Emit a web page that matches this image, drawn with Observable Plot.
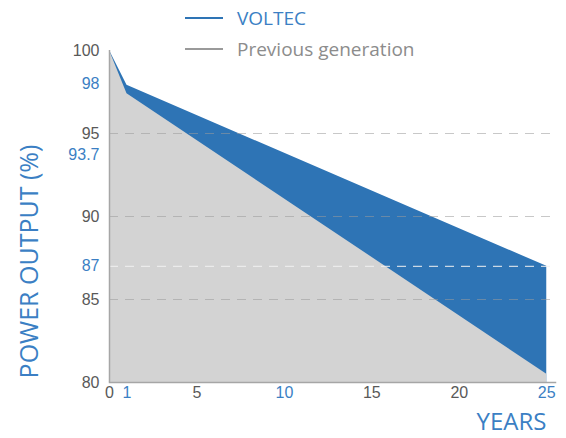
<!DOCTYPE html>
<html>
<head>
<meta charset="utf-8">
<script src="https://cdn.jsdelivr.net/npm/d3@7"></script>
<script src="https://cdn.jsdelivr.net/npm/@observablehq/plot@0.6"></script>
<style>
  html, body { margin: 0; padding: 0; background: #fff; }
  #wrap { position: relative; width: 566px; height: 438px; }
  #legend { position: absolute; left: 185px; top: 5px; font-family: "Open Sans", sans-serif; }
  .item { position: absolute; left: 0; white-space: nowrap; display: flex; align-items: center; }
  .swatch { width: 38px; height: 2px; margin-right: 14px; }
</style>
</head>
<body>
<div id="wrap">
  <div id="chart"></div>
  <div id="legend"></div>
</div>
<script>
// ---- data ----
const years = [0, 1, 25];
const voltec = [100, 97.9, 87];
const previous = [100, 97.4, 80.5];
const seriesNames = ["VOLTEC", "Previous generation"];
const yTicks = [100, 98, 95, 93.7, 90, 87, 85, 80];
const yHighlight = [98, 93.7, 87];
const xTicks = [0, 1, 5, 10, 15, 20, 25];
const xHighlight = [1, 10, 25];
const gridGray = [95, 90, 85];
const gridLight = [87];

// ---- styles ----
const BLUE = "#2e74b5";
const BLUE_TEXT = "#3b7fc4";
const GRAY_AREA = "#d3d3d3";
const GRAY_TEXT = "#595959";
const LEGEND_GRAY = "#8c8c8c";

const rows = years.map((yr, i) => ({year: yr, voltec: voltec[i], previous: previous[i]}));
const yMin = d3.min(yTicks), yMax = d3.max(yTicks);

const chart = Plot.plot({
  width: 566,
  height: 438,
  marginLeft: 109,
  marginRight: 11,
  marginTop: 50,
  marginBottom: 56,
  x: {domain: [0, 25.5], axis: null},
  y: {domain: [yMin, yMax], axis: null},
  color: {type: "identity"},
  style: {fontFamily: "'Liberation Sans', Arial, sans-serif", fontSize: "16px", background: "#fff"},
  marks: [
    Plot.areaY(rows, {x: "year", y1: yMin, y2: "voltec", fill: BLUE}),
    Plot.areaY(rows, {x: "year", y1: yMin, y2: "previous", fill: GRAY_AREA}),
    Plot.ruleY(gridGray, {stroke: "#9a9a9a", strokeOpacity: 0.55, strokeDasharray: "9,7", strokeWidth: 1}),
    Plot.ruleY(gridLight, {stroke: "#f2f2f2", strokeDasharray: "9,7", strokeWidth: 1}),
    Plot.ruleX([0], {y1: yMin, y2: yMax, stroke: "#a6a6a6", strokeWidth: 1.5}),
    Plot.frame({anchor: "bottom", stroke: "#a6a6a6", strokeWidth: 1.5}),
    Plot.text(yTicks, {
      y: d => d, frameAnchor: "left", dx: -10, textAnchor: "end",
      text: d => String(d), fontSize: 16,
      fill: d => yHighlight.includes(d) ? BLUE_TEXT : GRAY_TEXT
    }),
    Plot.text(xTicks, {
      x: d => d, frameAnchor: "bottom", dy: 15,
      text: d => String(d), fontSize: 16,
      fill: d => xHighlight.includes(d) ? BLUE_TEXT : GRAY_TEXT
    }),
    Plot.text(["POWER OUTPUT (%)"], {
      frameAnchor: "left", textAnchor: "middle", rotate: -90, dx: -80, dy: 45,
      text: d => d, fill: BLUE_TEXT, fontSize: 25,
      fontFamily: "'Open Sans', sans-serif"
    }),
    Plot.text(["YEARS"], {
      frameAnchor: "bottom-right", textAnchor: "end", dx: -9, dy: 47,
      text: d => d, fill: BLUE_TEXT, fontSize: 24,
      fontFamily: "'Open Sans', sans-serif"
    })
  ]
});
document.getElementById("chart").appendChild(chart);

// ---- legend ----
const legendColors = [BLUE, "#9a9a9a"];
const legendText = [BLUE_TEXT, LEGEND_GRAY];
const legendTop = [0, 31];
const legendSize = [19, 19];
const legend = document.getElementById("legend");
seriesNames.forEach((name, i) => {
  const item = document.createElement("div");
  item.className = "item";
  item.style.top = legendTop[i] + "px";
  const sw = document.createElement("span");
  sw.className = "swatch";
  sw.style.background = legendColors[i];
  const tx = document.createElement("span");
  tx.textContent = name;
  tx.style.color = legendText[i];
  tx.style.fontSize = legendSize[i] + "px";
  item.appendChild(sw);
  item.appendChild(tx);
  legend.appendChild(item);
});
</script>
</body>
</html>
